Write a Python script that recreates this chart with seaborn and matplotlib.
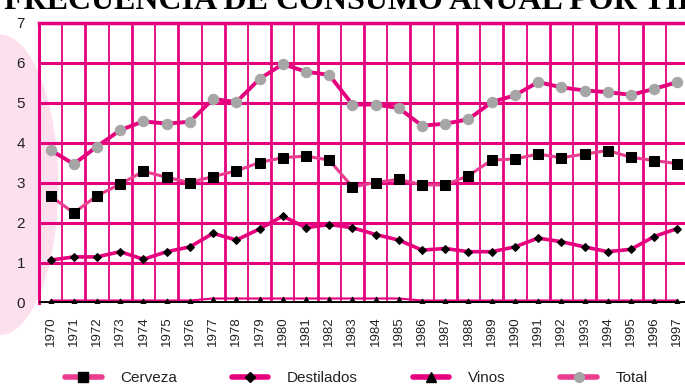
import numpy as np
import pandas as pd
import seaborn as sns
import matplotlib.pyplot as plt
from matplotlib.patches import Ellipse
from matplotlib.lines import Line2D

years = list(range(1970, 1998))
cerveza = [2.66, 2.24, 2.67, 2.96, 3.28, 3.13, 3.00, 3.15, 3.29, 3.50,
           3.62, 3.66, 3.56, 2.89, 3.00, 3.08, 2.94, 2.94, 3.17, 3.56,
           3.59, 3.71, 3.62, 3.71, 3.80, 3.63, 3.55, 3.47]
destilados = [1.06, 1.14, 1.14, 1.27, 1.08, 1.27, 1.39, 1.73, 1.56, 1.84,
              2.16, 1.87, 1.95, 1.87, 1.70, 1.56, 1.31, 1.35, 1.27, 1.27,
              1.39, 1.61, 1.52, 1.39, 1.27, 1.33, 1.65, 1.85]
vinos = [0.05, 0.05, 0.05, 0.05, 0.05, 0.05, 0.05, 0.10, 0.10, 0.10,
         0.10, 0.10, 0.10, 0.10, 0.10, 0.10, 0.05, 0.05, 0.05, 0.05,
         0.05, 0.05, 0.05, 0.05, 0.05, 0.05, 0.05, 0.05]
total = [3.81, 3.46, 3.90, 4.31, 4.53, 4.47, 4.52, 5.09, 5.01, 5.59,
         5.96, 5.77, 5.69, 4.95, 4.95, 4.86, 4.42, 4.47, 4.58, 5.01,
         5.18, 5.51, 5.38, 5.30, 5.26, 5.19, 5.34, 5.51]
y_ticks = [0, 1, 2, 3, 4, 5, 6, 7]

df = pd.DataFrame({'idx': range(len(years)), 'Cerveza': cerveza,
                   'Destilados': destilados, 'Vinos': vinos, 'Total': total})

pink = '#e6007e'
pink_light = '#ea3d8f'

sns.set_theme(style='white')
plt.rcParams['font.family'] = ['Liberation Sans Narrow', 'Liberation Sans', 'DejaVu Sans']

fig = plt.figure(figsize=(6.85, 3.85), dpi=100)
ax = fig.add_axes([39 / 685, 1 - 302.5 / 385, 650 / 685, 280 / 385])
ax.set_facecolor('none')

# decorative pink blob on the left
blob = Ellipse((0.0, 0.52), 0.17, 0.78, transform=fig.transFigure,
               facecolor='#fde0ee', edgecolor='none', zorder=-10)
fig.patches.append(blob)

# grid: vertical lines between years, horizontal at integers
for i in range(len(years) + 1):
    ax.axvline(i - 0.5, color=pink, lw=2.0 if i % 2 == 0 else 1.3, zorder=1)
for v in y_ticks[1:]:
    ax.axhline(v, color=pink, lw=2.2, zorder=1)

# series
sns.lineplot(data=df, x='idx', y='Total', ax=ax, color=pink, lw=2.8,
             marker='o', markersize=7.5, markerfacecolor='#a6a6a6',
             markeredgecolor='#a6a6a6', zorder=3)
sns.lineplot(data=df, x='idx', y='Cerveza', ax=ax, color=pink_light, lw=2.2,
             marker='s', markersize=7.5, markerfacecolor='black',
             markeredgecolor='black', zorder=3)
sns.lineplot(data=df, x='idx', y='Destilados', ax=ax, color=pink, lw=2.6,
             marker='D', markersize=4.5, markerfacecolor='black',
             markeredgecolor='black', zorder=3)
sns.lineplot(data=df, x='idx', y='Vinos', ax=ax, color=pink, lw=1.5,
             marker='^', markersize=3.5, markerfacecolor='black',
             markeredgecolor='black', zorder=3)
ax.axhline(0, color='black', lw=3.5, zorder=4)

ax.set_xlim(-0.5, 27.5)
ax.set_ylim(0, 7)
ax.set_xticks(range(len(years)))
ax.set_xticklabels([str(y) for y in years], rotation=90, fontsize=9.5, color='#222222')
ax.set_yticks(y_ticks)
ax.set_yticklabels([str(v) for v in y_ticks], fontsize=11, color='#222222')
ax.tick_params(axis='x', length=0, pad=10)
ax.tick_params(axis='y', length=0, pad=10)
ax.set_xlabel('')
ax.set_ylabel('')
for s in ['right', 'bottom']:
    ax.spines[s].set_visible(False)
ax.spines['left'].set_color(pink)
ax.spines['left'].set_linewidth(2.2)
ax.spines['top'].set_color(pink)
ax.spines['top'].set_linewidth(2.5)

# title, cut off at the top
fig.text(0.006, 1 - 9 / 385, 'FRECUENCIA DE CONSUMO ANUAL POR TIPO',
         fontsize=23, fontweight='bold', family='Liberation Serif',
         va='baseline', ha='left', color='black')

# legend
handles = [
    Line2D([], [], color=pink_light, lw=4, marker='s', markersize=7,
           markerfacecolor='black', markeredgecolor='black'),
    Line2D([], [], color=pink, lw=4, marker='D', markersize=5,
           markerfacecolor='black', markeredgecolor='black'),
    Line2D([], [], color=pink, lw=4, marker='^', markersize=7,
           markerfacecolor='black', markeredgecolor='black'),
    Line2D([], [], color=pink_light, lw=4, marker='o', markersize=7,
           markerfacecolor='#a6a6a6', markeredgecolor='#a6a6a6'),
]
fig.legend(handles, ['Cerveza', 'Destilados', 'Vinos', 'Total'],
           loc='center', bbox_to_anchor=(0.52, 1 - 378 / 385), ncol=4,
           frameon=False, fontsize=11, handlelength=2.4, handletextpad=1.2,
           columnspacing=3.6, labelcolor='#222222')

fig.savefig('out.png', dpi=100)
